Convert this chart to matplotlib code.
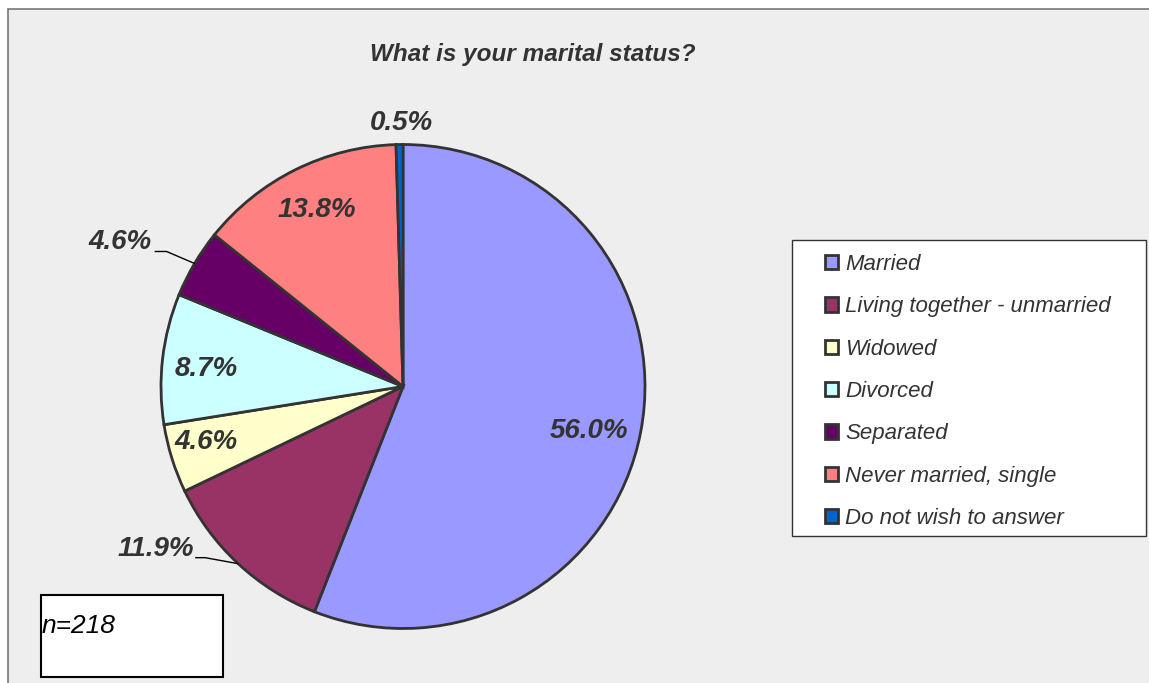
import numpy as np
import matplotlib
matplotlib.use("Agg")
from matplotlib import pyplot as plt
from matplotlib.patches import Rectangle

plt.rcParams['font.family'] = ['Liberation Sans', 'DejaVu Sans']

# data (counts out of n=218)
categories = ['Married', 'Living together - unmarried', 'Widowed', 'Divorced',
              'Separated', 'Never married, single', 'Do not wish to answer']
counts = [122, 26, 10, 19, 10, 30, 1]
colors = ['#9999FF', '#993366', '#FFFFCC', '#CCFFFF', '#660066', '#FF8080', '#0066CC']
title = 'What is your marital status?'
n_text = 'n=218'

W, H = 1149, 683
fig = plt.figure(figsize=(W / 100, H / 100), dpi=100)
fig.patch.set_facecolor('white')

# chart area background
fig.patches.append(Rectangle((8 / W, -0.01), 1.0, 1 - 9 / H + 0.01, transform=fig.transFigure,
                             facecolor='#eeeeee', edgecolor='#777777', lw=1.2, zorder=-5))

# pie: center (403, 386.5) px, radius 242 px
cx, cy, r = 403, 386.5, 242
ax = fig.add_axes([(cx - r) / W, (H - cy - r) / H, 2 * r / W, 2 * r / H])
ax.set_zorder(1)

wedges, _ = ax.pie(counts, colors=colors, startangle=90, counterclock=False, radius=1,
                   wedgeprops=dict(edgecolor='#333333', linewidth=2))
ax.set_xlim(-1, 1)
ax.set_ylim(-1, 1)
ax.axis('off')

total = sum(counts)
pcts = [100.0 * c / total for c in counts]
label_font = dict(fontsize=20, fontweight='bold', fontstyle='italic', color='#333333')

# inside labels: (radial distance, angle tweak in degrees from wedge middle)
inside = {0: (0.79, -2.7), 2: (0.846, -1.6), 3: (0.817, 1.5), 5: (0.81, -0.4)}
# outside labels: pixel offsets from the wedge's outer edge (elbow, line end, text centre)
outside = {1: ((-33, 6), (-43, 6), (-82, 15)),
           4: ((-28, 12), (-40, 12), (-75, 21)),
           6: (None, None, (1.5, 21.5))}
for i, w in enumerate(wedges):
    mid_deg = (w.theta1 + w.theta2) / 2
    txt = '%.1f%%' % pcts[i]
    if i in inside:
        d, tweak = inside[i]
        a = np.deg2rad(mid_deg + tweak)
        ax.text(d * np.cos(a), d * np.sin(a), txt, ha='center', va='center', **label_font)
    else:
        mid = np.deg2rad(mid_deg)
        ex, ey = np.cos(mid), np.sin(mid)
        elbow, end, tpos = outside[i]
        if elbow is not None:
            ax.plot([ex, ex + elbow[0] / r, ex + end[0] / r],
                    [ey, ey + elbow[1] / r, ey + end[1] / r],
                    color='black', lw=1, clip_on=False, solid_capstyle='butt')
        ax.text(ex + tpos[0] / r, ey + tpos[1] / r, txt, ha='center', va='center',
                clip_on=False, **label_font)

fig.text(533 / W, 1 - 54 / H, title, ha='center', va='center', fontsize=17.5,
         fontstyle='italic', fontweight='bold', color='#333333')

# legend
fig.patches.append(Rectangle((792 / W, 1 - 536 / H), (1146 - 792) / W, (536 - 240) / H,
                             transform=fig.transFigure, facecolor='white',
                             edgecolor='#333333', lw=1, zorder=1))
leg = fig.legend(wedges, categories, loc='upper left', bbox_to_anchor=(825 / W, 1 - 254 / H),
                 frameon=False, prop=dict(size=16, style='italic'),
                 handlelength=0.6, handleheight=0.6, handletextpad=0.3,
                 labelspacing=0.96, borderpad=0, borderaxespad=0)
leg.set_zorder(2)
for t in leg.get_texts():
    t.set_color('#333333')

# n box
fig.patches.append(Rectangle((41 / W, 1 - 677 / H), (223 - 41) / W, (677 - 595) / H,
                             transform=fig.transFigure, facecolor='white',
                             edgecolor='black', lw=1.5, zorder=1))
fig.text(42 / W, 1 - 626 / H, n_text, ha='left', va='center', fontsize=19,
         fontstyle='italic', color='black', zorder=3)

fig.savefig('out.png', dpi=100)
